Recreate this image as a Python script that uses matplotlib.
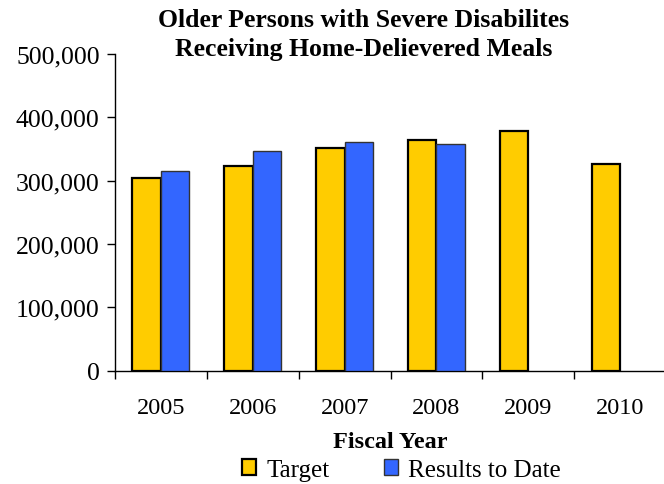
# Older persons with severe disabilities receiving home-delivered meals.

import matplotlib
matplotlib.use("Agg")
import matplotlib.pyplot as plt
from matplotlib.patches import Patch
from matplotlib.ticker import FuncFormatter

YEARS = ["2005", "2006", "2007", "2008", "2009", "2010"]
TARGET = [305000, 323000, 351000, 365000, 379000, 326000]
RESULTS = [316000, 347000, 361000, 358000, None, None]

GOLD = "#FFCC00"
BLUE = "#3366FF"

plt.rcParams["font.family"] = ["Liberation Serif", "DejaVu Serif"]


def plot_meals():
    fig = plt.figure(figsize=(6.64, 4.85), dpi=100)
    ax = fig.add_axes([0.1732, 0.2336, 0.83, 0.653])

    width = 0.31
    x = list(range(len(YEARS)))
    ax.bar([i - width / 2 for i in x], TARGET, width, color=GOLD,
           edgecolor="black", linewidth=1.6, zorder=3)
    rx = [i + width / 2 for i, v in zip(x, RESULTS) if v is not None]
    rv = [v for v in RESULTS if v is not None]
    ax.bar(rx, rv, width, color=BLUE, edgecolor="#333333", linewidth=1.0,
           zorder=3)

    ax.set_xlim(-0.5, len(YEARS) - 0.5)
    ax.set_ylim(0, 500000)
    ax.set_yticks(range(0, 500001, 100000))
    ax.yaxis.set_major_formatter(FuncFormatter(lambda v, p: f"{int(v):,}"))
    ax.set_xticks(x)
    ax.set_xticklabels(YEARS)
    ax.set_xticks([i + 0.5 for i in range(-1, len(YEARS))], minor=True)
    ax.tick_params(axis="x", which="major", length=0, pad=19, labelsize=17.5)
    ax.tick_params(axis="x", which="minor", length=6, width=1)
    ax.tick_params(axis="y", length=6, width=1, labelsize=18.5, pad=5)

    for side in ["top", "right"]:
        ax.spines[side].set_visible(False)
    ax.spines["left"].set_linewidth(1)
    ax.spines["bottom"].set_linewidth(1)

    ax.set_xlabel("Fiscal Year", fontsize=17.5, fontweight="bold", labelpad=9)

    fig.text(0.547, 0.944, "Older Persons with Severe Disabilites",
             ha="center", va="baseline", fontsize=18.5, fontweight="bold")
    fig.text(0.547, 0.8845, "Receiving Home-Delievered Meals",
             ha="center", va="baseline", fontsize=18.5, fontweight="bold")

    handles = [Patch(facecolor=GOLD, edgecolor="black", linewidth=1.6),
               Patch(facecolor=BLUE, edgecolor="#333333", linewidth=1.0)]
    fig.legend(handles, ["Target", "Results to Date"], loc="center",
               bbox_to_anchor=(0.605, 0.029), ncol=2, frameon=False,
               fontsize=18, handlelength=0.56, handleheight=0.56,
               handletextpad=0.4, columnspacing=2.2, borderpad=0)

    fig.savefig("out.png", dpi=100)


plot_meals()
